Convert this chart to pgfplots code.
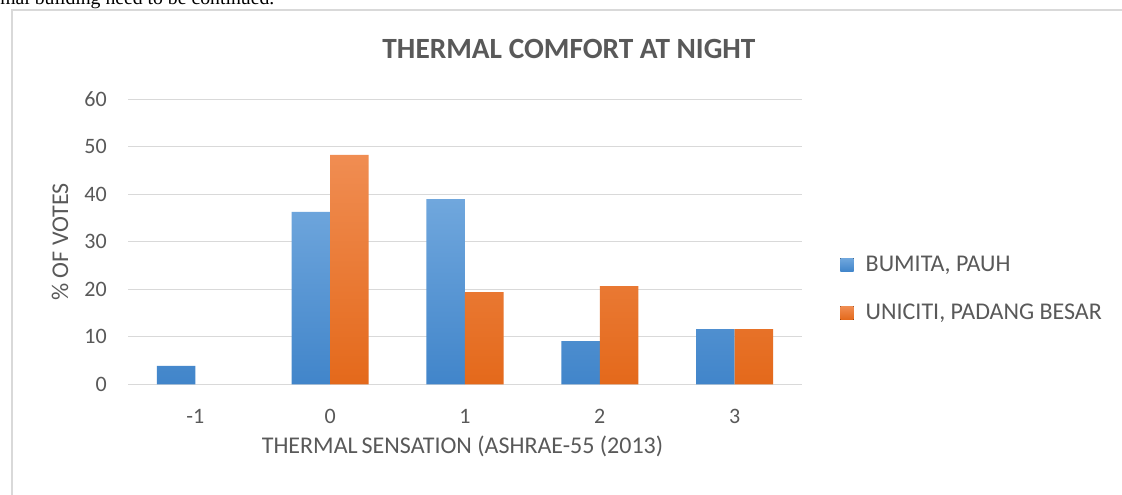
\documentclass[border=0pt]{standalone}
\usepackage{fontspec}
\setmainfont{Carlito}
\newfontfamily\seriffont{Liberation Serif}
\usepackage{pgfplots}
\pgfplotsset{compat=1.18}
\definecolor{txt}{HTML}{595959}
\definecolor{gridc}{HTML}{D9D9D9}
\definecolor{blueT}{HTML}{70A7DD}
\definecolor{blueB}{HTML}{4185CA}
\definecolor{oranT}{HTML}{F08D52}
\definecolor{oranB}{HTML}{E4691B}
\pgfplotsset{sqlegend/.style={legend image code/.code={\fill[##1] (0pt,-5pt) rectangle (10pt,5pt); \path (10pt,0pt) -- (19pt,0pt);}}}
\begin{document}
\begin{tikzpicture}
\useasboundingbox (0pt,0pt) rectangle (841.5pt,371.25pt);
\fill[white] (0pt,0pt) rectangle (841.5pt,371.25pt);
% fragment of preceding text (cut off)
\node[anchor=base west, inner sep=0pt, font=\seriffont\fontsize{14.8}{17}\selectfont] at (0pt,367.5pt) {mal building need to be continued.};
% chart border
\draw[gridc, line width=1.5pt] (9pt,0pt) -- (9pt,363.5pt) -- (845pt,363.5pt);
% title
\node[font=\bfseries\fontsize{22}{26}\selectfont, text=txt] at (426.75pt,334.5pt) {THERMAL COMFORT AT NIGHT};
\begin{axis}[
  at={(96pt,83.0pt)}, anchor=south west,
  scale only axis, width=505.5pt, height=213.75pt,
  xmin=-1.5, xmax=3.5, ymin=0, ymax=60,
  xtick={-1,0,1,2,3}, xticklabels={-1,0,1,2,3},
  ytick={0,10,20,30,40,50,60},
  ymajorgrids, major grid style={gridc, line width=0.75pt},
  axis line style={draw=none}, tick style={draw=none},
  ybar=0pt, bar width=28.9pt,
  /pgf/number format/assume math mode=true,
  tick label style={font=\fontsize{16.5}{20}\selectfont, text=txt},
  yticklabel style={inner sep=0pt, xshift=-15.75pt},
  xticklabel style={inner sep=0pt, anchor=north, yshift=-14.5pt},
  xlabel={THERMAL\,SENSATION (ASHRAE-55 (2013)},
  ylabel={\% OF VOTES},
  label style={font=\fontsize{18}{21}\selectfont, text=txt},
  xlabel style={at={(axis description cs:0.4963,-0.2165)}, anchor=center},
  ylabel style={at={(axis description cs:-0.1009,0.5)}, anchor=center, rotate=0},
  legend style={at={(axis description cs:1.0566,0.335)}, anchor=west, draw=none,
    fill=none, inner sep=0pt, row sep=23pt,
    font=\fontsize{18}{21}\selectfont, text=txt,
    nodes={inner sep=0pt, text=txt}},
  legend cell align=left,
]
\addplot[draw=none, top color=blueT, bottom color=blueB, sqlegend]
  coordinates {(-1,3.9) (0,36.3) (1,39.0) (2,9.1) (3,11.6)};
\addlegendentry{BUMITA, PAUH}
\addplot[draw=none, top color=oranT, bottom color=oranB, sqlegend]
  coordinates {(0,48.3) (1,19.4) (2,20.7) (3,11.6)};
\addlegendentry{UNICITI, PADANG BESAR}
\end{axis}
\end{tikzpicture}
\end{document}
